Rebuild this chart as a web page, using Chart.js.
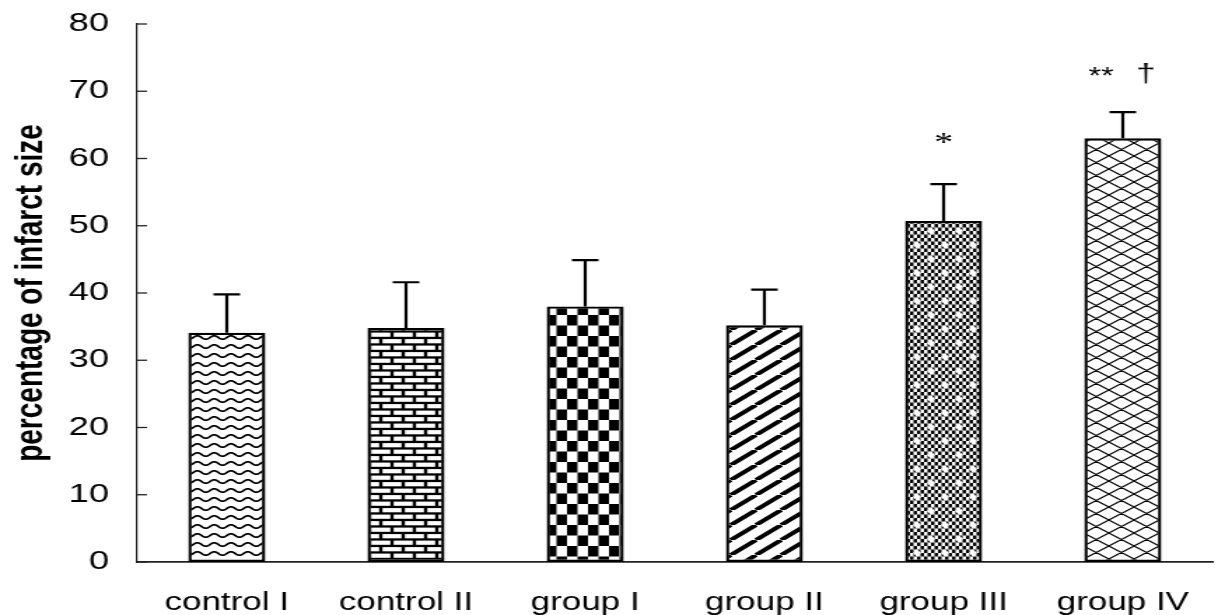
<!DOCTYPE html>
<html>
<head>
<meta charset="utf-8">
<script src="https://cdn.jsdelivr.net/npm/chart.js"></script>
<style>
  html, body { margin: 0; padding: 0; background: #fff; overflow: hidden; }
  /* the source figure is stretched sideways, so draw narrow and stretch */
  #wrap { width: 870px; height: 615px; transform: scaleX(1.4); transform-origin: 0 0; }
</style>
</head>
<body>
<div id="wrap"><canvas id="chart"></canvas></div>
<script>
// Data
const labels = ['control I', 'control II', 'group I', 'group II', 'group III', 'group IV'];
const means = [34.1, 34.8, 38.0, 35.2, 50.7, 63.0];
const errors = [5.7, 6.8, 6.9, 5.3, 5.5, 3.9];
const marks = [[], [], [], [], ['*'], ['**', '†']];
const yTicks = [0, 10, 20, 30, 40, 50, 60, 70, 80];

Chart.defaults.font.family = "'Liberation Sans', Arial, sans-serif";
Chart.defaults.color = '#000';

// Fill patterns for the bars
function tile(w, h, draw) {
  const c = document.createElement('canvas');
  c.width = w; c.height = h;
  const g = c.getContext('2d');
  g.fillStyle = '#fff';
  g.fillRect(0, 0, w, h);
  g.fillStyle = '#000';
  g.strokeStyle = '#000';
  draw(g, w, h);
  return g.createPattern(c, 'repeat');
}

const wavy = tile(12, 9, g => {
  g.lineWidth = 1.7;
  g.beginPath();
  for (let x = -1; x <= 13; x += 0.5) {
    const y = 4.5 + 1.7 * Math.sin(x / 12 * 2 * Math.PI);
    if (x === -1) g.moveTo(x, y); else g.lineTo(x, y);
  }
  g.stroke();
});

const brick = tile(16, 13, g => {
  g.fillRect(0, 0, 16, 13);
  g.fillStyle = '#fff';
  g.fillRect(1.2, 1.1, 13.6, 4.2);
  g.fillRect(-6.8, 7.6, 13.6, 4.2);
  g.fillRect(9.2, 7.6, 13.6, 4.2);
});

const checker = tile(15, 21, g => {
  g.fillRect(0, 0, 7.5, 10.5);
  g.fillRect(7.5, 10.5, 7.5, 10.5);
});

const stripes = tile(18, 15, g => {
  g.lineWidth = 3.8;
  g.beginPath();
  g.moveTo(-18, 15); g.lineTo(0, 0);
  g.moveTo(0, 15); g.lineTo(18, 0);
  g.moveTo(18, 15); g.lineTo(36, 0);
  g.stroke();
});

const fineChecker = tile(20, 28, g => {
  for (let i = 0; i < 8; i++) {
    for (let j = 0; j < 8; j++) {
      if ((i + j) % 2) g.fillRect(i * 2.5, j * 3.5, 2.5, 3.5);
    }
  }
  g.fillStyle = '#fff';
  [[5, 7], [15, 21]].forEach(([cx, cy]) => {
    g.beginPath();
    g.moveTo(cx, cy - 4); g.lineTo(cx + 2.8, cy); g.lineTo(cx, cy + 4); g.lineTo(cx - 2.8, cy);
    g.closePath();
    g.fill();
  });
});

const hatch = tile(18, 13, g => {
  g.lineWidth = 1.1;
  g.beginPath();
  g.moveTo(0, 13); g.lineTo(18, 0);
  g.moveTo(-18, 13); g.lineTo(0, 0);
  g.moveTo(18, 13); g.lineTo(36, 0);
  g.moveTo(0, 0); g.lineTo(18, 13);
  g.moveTo(-18, 0); g.lineTo(0, 13);
  g.moveTo(18, 0); g.lineTo(36, 13);
  g.stroke();
});

const fills = [wavy, brick, checker, stripes, fineChecker, hatch];

// Error bars (upper only), inward y ticks and significance marks
const extras = {
  id: 'extras',
  afterDatasetsDraw(chart) {
    const { ctx, scales: { x, y } } = chart;
    const meta = chart.getDatasetMeta(0);
    ctx.save();
    ctx.strokeStyle = '#000';
    ctx.lineWidth = 2.2;
    meta.data.forEach((bar, i) => {
      const base = y.getPixelForValue(means[i]);
      const top = y.getPixelForValue(means[i] + errors[i]);
      ctx.beginPath();
      ctx.moveTo(bar.x, base); ctx.lineTo(bar.x, top);
      ctx.moveTo(bar.x - 9.5, top); ctx.lineTo(bar.x + 9.5, top);
      ctx.stroke();
    });

    ctx.strokeStyle = '#222';
    ctx.lineWidth = 1.3;
    yTicks.forEach(v => {
      const py = y.getPixelForValue(v);
      ctx.beginPath();
      ctx.moveTo(x.left, py); ctx.lineTo(x.left + 7, py);
      ctx.stroke();
    });

    ctx.fillStyle = '#000';
    ctx.textAlign = 'center';
    ctx.textBaseline = 'alphabetic';
    meta.data.forEach((bar, i) => {
      const top = y.getPixelForValue(means[i] + errors[i]);
      const m = marks[i];
      if (m.length === 1) {
        ctx.font = "27px 'Liberation Serif', serif";
        ctx.fillText(m[0], bar.x, top - 33);
      } else if (m.length === 2) {
        ctx.font = "23px 'Liberation Sans', Arial, sans-serif";
        ctx.fillText(m[0], bar.x - 15.5, top - 28);
        ctx.font = "25px 'Liberation Sans', Arial, sans-serif";
        ctx.fillText(m[1], bar.x + 16.5, top - 30);
      }
    });
    ctx.restore();
  }
};

new Chart(document.getElementById('chart'), {
  type: 'bar',
  data: {
    labels,
    datasets: [{
      data: means,
      backgroundColor: fills,
      borderColor: '#000',
      borderWidth: 2.4,
      borderSkipped: false,
      barPercentage: 0.43,
      categoryPercentage: 1
    }]
  },
  options: {
    responsive: true,
    maintainAspectRatio: false,
    animation: false,
    layout: { padding: { top: 24, right: 4, left: 0, bottom: 0 } },
    plugins: {
      legend: { display: false },
      tooltip: { enabled: false }
    },
    scales: {
      x: {
        grid: { display: false, drawTicks: false },
        border: { display: true, color: '#222', width: 1.8 },
        ticks: { color: '#000', font: { size: 25 }, padding: 26 },
        afterFit(s) { s.height = 53; s.paddingLeft = 0; s.paddingRight = 0; }
      },
      y: {
        min: 0,
        max: 80,
        grid: { display: false, drawTicks: false },
        border: { display: true, color: '#222', width: 1.2 },
        ticks: { stepSize: 10, color: '#000', font: { size: 26 }, padding: 20 },
        title: {
          display: true,
          text: 'percentage of infarct size',
          color: '#000',
          font: { size: 28, weight: 'bold' },
          padding: { top: 5, bottom: 0 }
        },
        afterFit(s) { s.width = 98; s.paddingTop = 0; s.paddingBottom = 0; }
      }
    }
  },
  plugins: [extras]
});
</script>
</body>
</html>
